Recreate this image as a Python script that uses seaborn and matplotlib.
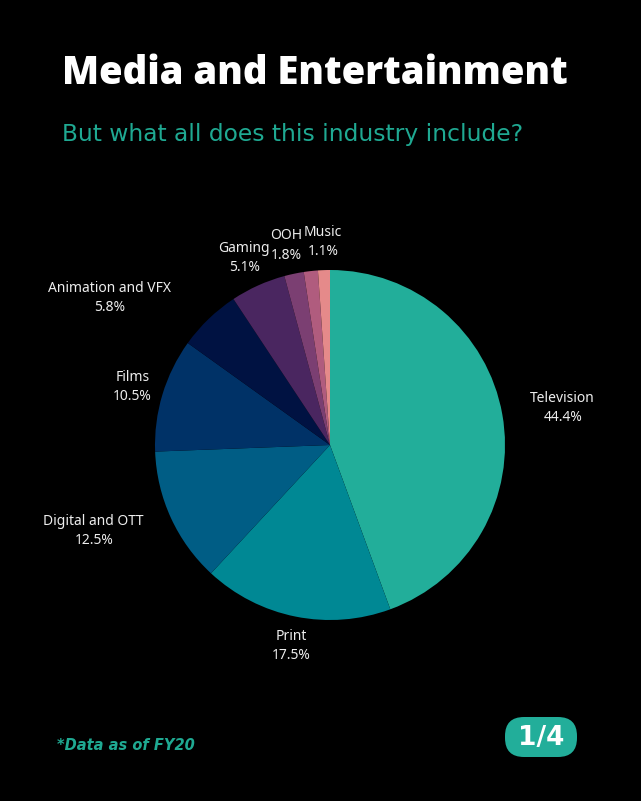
import matplotlib
matplotlib.use("Agg")
import matplotlib.pyplot as plt
import seaborn as sns
from matplotlib.patches import FancyBboxPatch

# ---- data ----
categories = ["Television", "Print", "Digital and OTT", "Films", "Animation and VFX",
              "Gaming", "OOH", "Radio", "Music"]
shares = [44.4, 17.5, 12.5, 10.5, 5.8, 5.1, 1.8, 1.3, 1.1]
show_label = [True, True, True, True, True, True, True, False, True]
colors = ["#22AE9A", "#008894", "#005D85", "#003267", "#001242",
          "#4A2660", "#7B3F72", "#B05C7E", "#E58A8A"]

title = "Media and Entertainment"
subtitle = "But what all does this industry include?"
footnote = "*Data as of FY20"
badge = "1/4"

# label positions (data units, pie radius = 1)
label_pos = {
    "Television": (1.33, 0.21),
    "Print": (-0.22, -1.15),
    "Digital and OTT": (-1.35, -0.49),
    "Films": (-1.13, 0.33),
    "Animation and VFX": (-1.26, 0.84),
    "Gaming": (-0.49, 1.07),
    "OOH": (-0.25, 1.14),
    "Music": (-0.04, 1.16),
}

sns.set_theme(style="dark")
plt.rcParams['font.family'] = ['Open Sans', 'DejaVu Sans']

W, H = 641, 801
fig = plt.figure(figsize=(W / 100, H / 100), dpi=100, facecolor="black")
cx, cy, R = 330, 445, 175
ax = fig.add_axes([0, 0, 1, 1])
ax.set_facecolor("black")
ax.pie(shares, colors=colors, startangle=90, counterclock=False,
       wedgeprops=dict(linewidth=0))
ax.set_xlim(-cx / R, (W - cx) / R)
ax.set_ylim(-(H - cy) / R, cy / R)
ax.set_aspect("equal", adjustable="datalim")
ax.axis("off")

for cat, val, sh in zip(categories, shares, show_label):
    if not sh:
        continue
    x, y = label_pos[cat]
    ax.text(x, y, f"{cat}\n{val}%", ha="center", va="center", color="#EDEDED",
            fontsize=10, linespacing=1.4, family=["Noto Sans", "DejaVu Sans"])

# overlay in pixel coordinates for text and badge
ov = fig.add_axes([0, 0, 1, 1], facecolor="none")
ov.set_xlim(0, W)
ov.set_ylim(H, 0)
ov.axis("off")

ov.text(62, 73, title, color="white", fontsize=27.5, fontweight="heavy",
        ha="left", va="center", family=["Open Sans", "DejaVu Sans"])
ov.text(62, 135, subtitle, color="#1FA992", fontsize=16.8,
        ha="left", va="center", family=["DejaVu Sans"])
ov.text(57, 746, footnote, color="#1FA992", fontsize=10.5,
        fontweight="bold", style="italic", ha="left", va="center",
        family=["DejaVu Sans"])

bx0, by0, bw, bh = 505, 717, 72, 40
box = FancyBboxPatch((bx0, by0), bw, bh,
                     boxstyle="round,pad=0,rounding_size=19",
                     facecolor="#22AE9A", edgecolor="none")
ov.add_patch(box)
ov.text(bx0 + bw / 2, by0 + bh / 2 + 1, badge, color="white",
        fontsize=19, fontweight="heavy", ha="center", va="center",
        family=["DejaVu Sans"])

fig.savefig("out.png", dpi=100, facecolor="black")
